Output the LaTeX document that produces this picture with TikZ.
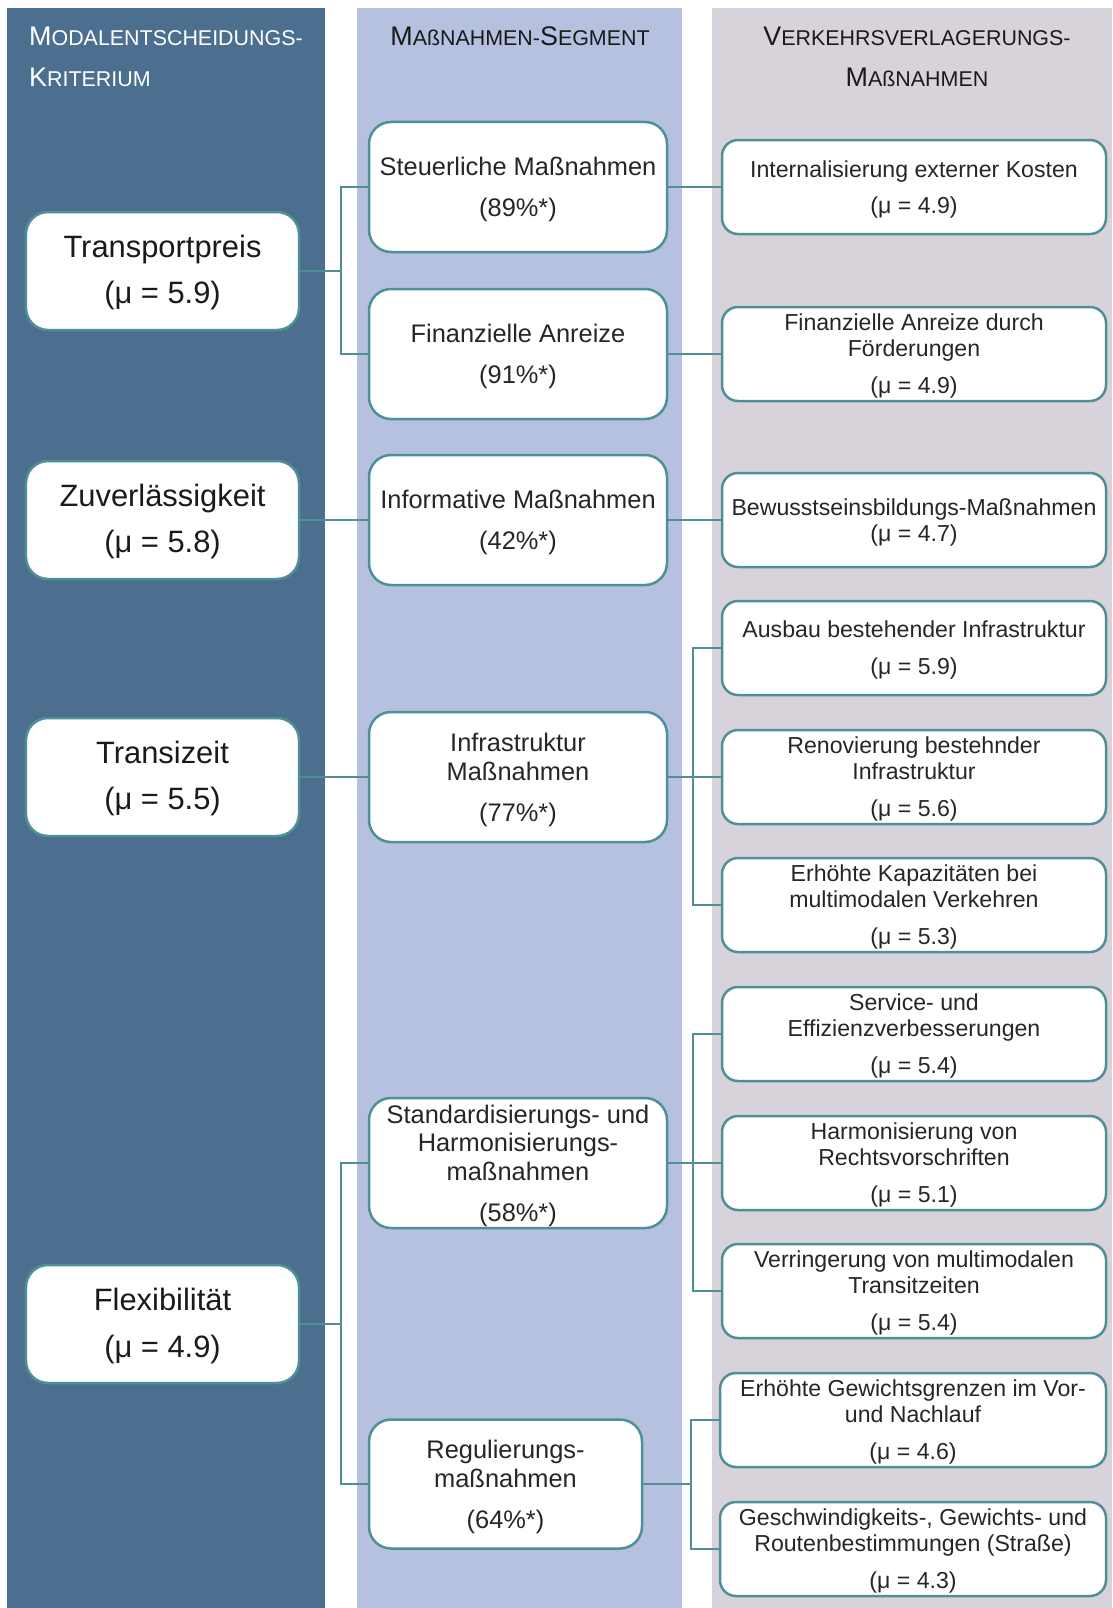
\documentclass[tikz,border=0pt]{standalone}
\usepackage{fontspec}
\setmainfont{Liberation Sans}
\definecolor{colA}{HTML}{4D6F8F}
\definecolor{colB}{HTML}{B5C1DF}
\definecolor{colC}{HTML}{D8D3DA}
\definecolor{edgecol}{HTML}{4F9098}
\definecolor{ink}{HTML}{1A1A1A}
\definecolor{inklight}{HTML}{262626}
\newcommand\smcp[2]{{\fontsize{27}{30}\selectfont #1}{\fontsize{21.5}{30}\selectfont #2}}
\newcommand\Lst{\rule{0pt}{25.5bp}}
\newcommand\Mst{\rule{0pt}{24bp}}
\newcommand\Rst{\rule{0pt}{21bp}}
\tikzset{
  box/.style={draw=edgecol, line width=2.5bp, fill=white, align=center, inner sep=0pt, text=inklight},
  lbox/.style={box, text=ink, rounded corners=22bp, minimum width=273bp, minimum height=118bp,
    font=\fontsize{31}{36}\selectfont},
  mbox/.style={box, rounded corners=22bp, minimum width=298bp, minimum height=130bp,
    font=\fontsize{25.5}{29}\selectfont},
  rbox/.style={box, rounded corners=16bp, minimum width=384bp, minimum height=94bp,
    font=\fontsize{23.2}{26}\selectfont},
  conn/.style={draw=edgecol, line width=2.2bp},
  hdr/.style={inner sep=0pt, anchor=base, text=ink}
}
\begin{document}
\begin{tikzpicture}[x=1bp, y=-1bp]
\useasboundingbox (0,0) rectangle (1112,1608);
\fill[white] (0,0) rectangle (1112,1608);
\fill[colA] (7,8) rectangle (325,1608);
\fill[colB] (357,8) rectangle (682,1608);
\fill[colC] (712,8) rectangle (1112,1608);

% headers
\node[hdr, text=white, anchor=base west] (h1a) at (29,46) {\smcp{M}{ODALENTSCHEIDUNGS-}};
\node[hdr, text=white, anchor=base west] (h1b) at (29,86) {\smcp{K}{RITERIUM}};
\node[hdr] (h2) at (520,46) {\smcp{M}{AßNAHMEN-}\smcp{S}{EGMENT}};
\node[hdr] (h3a) at (917,46) {\smcp{V}{ERKEHRSVERLAGERUNGS-}};
\node[hdr] (h3b) at (917,86) {\smcp{M}{AßNAHMEN}};

% left column
\node[lbox] (L1) at (162.5,271) {\Lst Transportpreis\\[11bp](μ = 5.9)};
\node[lbox] (L2) at (162.5,520) {\Lst Zuverlässigkeit\\[11bp](μ = 5.8)};
\node[lbox] (L3) at (162.5,777) {\Lst Transizeit\\[11bp](μ = 5.5)};
\node[lbox] (L4) at (162.5,1324) {\Lst Flexibilität\\[11bp](μ = 4.9)};

% middle column
\node[mbox] (M1) at (518,187) {\Mst Steuerliche Maßnahmen\\[12bp](89\%*)};
\node[mbox] (M2) at (518,354) {\Mst Finanzielle Anreize\\[12bp](91\%*)};
\node[mbox] (M3) at (518,520) {\Mst Informative Maßnahmen\\[12bp](42\%*)};
\node[mbox] (M4) at (518,777) {\Mst Infrastruktur\\Maßnahmen\\[12bp](77\%*)};
\node[mbox] (M5) at (518,1163) {\Mst Standardisierungs- und\\Harmonisierungs-\\maßnahmen\\[12bp](58\%*)};
\node[mbox, minimum width=273bp, minimum height=129bp] (M6) at (505.5,1484) {\Mst Regulierungs-\\maßnahmen\\[12bp](64\%*)};

% right column
\node[rbox] (R1) at (914,187) {\Rst Internalisierung externer Kosten\\[10bp](μ = 4.9)};
\node[rbox] (R2) at (914,354) {\Rst Finanzielle Anreize durch\\Förderungen\\[11bp](μ = 4.9)};
\node[rbox] (R3) at (914,520) {\Rst Bewusstseinsbildungs-Maßnahmen\\(μ = 4.7)};
\node[rbox] (R4) at (914,648) {\Rst Ausbau bestehender Infrastruktur\\[11bp](μ = 5.9)};
\node[rbox] (R5) at (914,777) {\Rst Renovierung bestehnder\\Infrastruktur\\[11bp](μ = 5.6)};
\node[rbox] (R6) at (914,905) {\Rst Erhöhte Kapazitäten bei\\multimodalen Verkehren\\[11bp](μ = 5.3)};
\node[rbox] (R7) at (914,1034) {\Rst Service- und\\Effizienzverbesserungen\\[11bp](μ = 5.4)};
\node[rbox] (R8) at (914,1163) {\Rst Harmonisierung von\\Rechtsvorschriften\\[11bp](μ = 5.1)};
\node[rbox] (R9) at (914,1291) {\Rst Verringerung von multimodalen\\Transitzeiten\\[11bp](μ = 5.4)};
\node[rbox, minimum width=386bp] (R10) at (913,1420) {\Rst Erhöhte Gewichtsgrenzen im Vor-\\und Nachlauf\\[11bp](μ = 4.6)};
\node[rbox, minimum width=386bp] (R11) at (913,1549) {\Rst Geschwindigkeits-, Gewichts- und\\Routenbestimmungen (Straße)\\[11bp](μ = 4.3)};

% junctions
\coordinate (j1) at (341,271);
\coordinate (j2) at (693,777);
\coordinate (j3) at (341,1324);
\coordinate (j4) at (693,1163);
\coordinate (j5) at (691,1484);

% connectors
\draw[conn] (L1.east) -- (j1);
\draw[conn] (M1.west) -| (j1) |- (M2.west);
\draw[conn] (L2.east) -- (M3.west);
\draw[conn] (L3.east) -- (M4.west);
\draw[conn] (L4.east) -- (j3);
\draw[conn] (M5.west) -| (j3) |- (M6.west);
\draw[conn] (M1.east) -- (R1.west);
\draw[conn] (M2.east) -- (R2.west);
\draw[conn] (M3.east) -- (R3.west);
\draw[conn] (M4.east) -- (j2);
\draw[conn] (R4.west) -| (j2) |- (R6.west);
\draw[conn] (j2) -- (R5.west);
\draw[conn] (M5.east) -- (j4);
\draw[conn] (R7.west) -| (j4) |- (R9.west);
\draw[conn] (j4) -- (R8.west);
\draw[conn] (M6.east) -- (j5);
\draw[conn] (R10.west) -| (j5) |- (R11.west);
\end{tikzpicture}
\end{document}
